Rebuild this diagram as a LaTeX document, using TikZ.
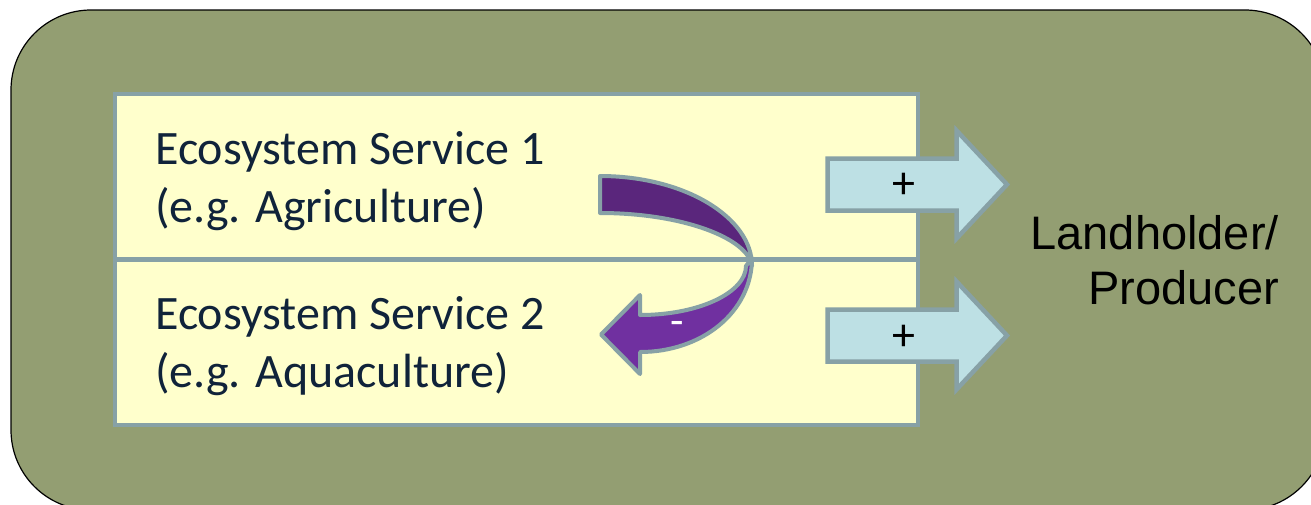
\documentclass[tikz,border=0pt]{standalone}
\usepackage{fontspec}
\setmainfont{Carlito}
\newfontfamily\arialfont{Liberation Sans}
\definecolor{bgc}{HTML}{939E72}
\definecolor{ylw}{HTML}{FFFFCC}
\definecolor{bordc}{HTML}{87A1A6}
\definecolor{bluef}{HTML}{BDE0E4}
\definecolor{purd}{HTML}{5A267C}
\definecolor{purl}{HTML}{7030A0}
\definecolor{txtc}{HTML}{10233A}
\begin{document}
\begin{tikzpicture}[x=1pt,y=-1pt,
  cellbox/.style={draw=bordc, line width=4.5pt, fill=ylw, minimum width=803pt, minimum height=165.5pt, inner sep=0pt},
  svtext/.style={font=\fontsize{48}{58}\selectfont, text=txtc, inner sep=0pt, anchor=base west},
  blockarrow/.style={draw=bordc, line width=4.5pt, fill=bluef, line join=miter},
  plustext/.style={font=\fontsize{46}{50}\selectfont, text=black, inner sep=0pt},
  purpleback/.style={draw=bordc, line width=4pt, fill=purd, line join=round},
  purplefront/.style={draw=bordc, line width=4pt, fill=purl, line join=round},
  lhtext/.style={font=\arialfont\fontsize{47}{56}\selectfont, text=black, inner sep=0pt, anchor=base east}]
\useasboundingbox (0,0) rectangle (1311,504);
\clip (0,0) rectangle (1311,504);
% background
\draw[fill=bgc, draw=black, line width=1.2pt, rounded corners=80pt] (11,10) rectangle (1325,510);
% cells
\node[cellbox] (cell1) at (516.5,176.75) {};
\node[cellbox] (cell2) at (516.5,342.25) {};
% texts
\node[svtext] (t1a) at (155,164) {Ecosystem Service 1};
\node[svtext] (t1b) at (155,222) {(e.g. Agriculture)};
\node[svtext] (t2a) at (155,329) {Ecosystem Service 2};
\node[svtext] (t2b) at (155,387) {(e.g. Aquaculture)};
% blue arrows
\path[blockarrow] (827.5,158.5) -- (956.5,158.5) -- (956.5,130.5) -- (1007,184.5) -- (956.5,238.5) -- (956.5,210.5) -- (827.5,210.5) -- cycle;
\node[plustext] (p1) at (904,186) {+};
\path[blockarrow] (827.5,309.5) -- (956.5,309.5) -- (956.5,281.5) -- (1007,335.5) -- (956.5,389.5) -- (956.5,361.5) -- (827.5,361.5) -- cycle;
\node[plustext] (p2) at (904,338) {+};
% purple curved arrow
\path[purpleback] (600,176) .. controls (684,176) and (752,217) .. (752,266) .. controls (748,238) and (682,213) .. (600,213) -- cycle;
\path[purplefront] (752,258) .. controls (752,312) and (702,352) .. (640,352) -- (640,374) -- (601,334.5) -- (640,295) -- (640,315) .. controls (700,315) and (746,292) .. (746,266) -- cycle;
\node[font=\fontsize{44}{48}\selectfont, text=white, inner sep=0pt] (minus) at (677,328) {-};
% landholder
\node[lhtext] (lh1) at (1279,249) {Landholder/};
\node[lhtext] (lh2) at (1279,304) {Producer};
\end{tikzpicture}
\end{document}
